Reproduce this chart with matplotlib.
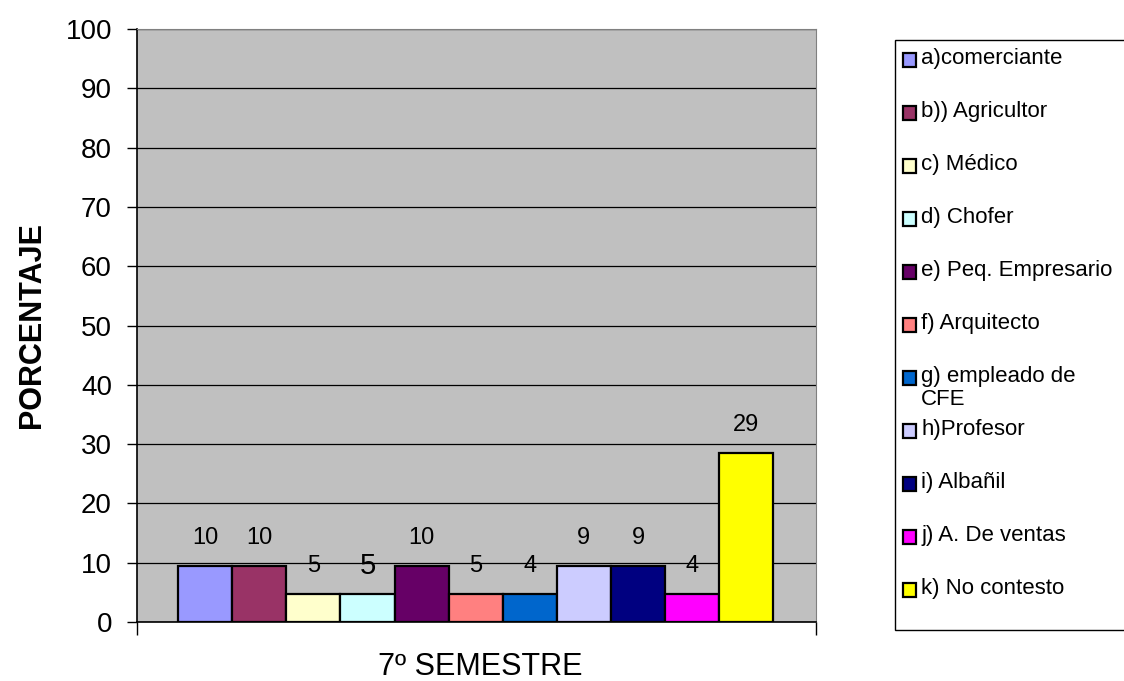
import matplotlib
matplotlib.use("Agg")
import matplotlib.pyplot as plt
from matplotlib.patches import Rectangle

plt.rcParams["font.family"] = ["Liberation Sans", "DejaVu Sans"]

# Occupation of the father, 7th semester (percent of 21 students)
CATEGORIES = [
    "a)comerciante", "b)) Agricultor", "c) Médico", "d) Chofer",
    "e) Peq. Empresario", "f) Arquitecto", "g) empleado de\nCFE",
    "h)Profesor", "i) Albañil", "j) A. De ventas", "k) No contesto",
]
PERCENT = [9.52, 9.52, 4.76, 4.76, 9.52, 4.76, 4.76, 9.52, 9.52, 4.76, 28.57]
LABELS = ["10", "10", "5", "5", "10", "5", "4", "9", "9", "4", "29"]
LABEL_SIZES = [17, 17, 17, 21, 17, 17, 17, 17, 17, 17, 17]
COLORS = ["#9999FF", "#993366", "#FFFFCC", "#CCFFFF", "#660066", "#FF8080",
          "#0066CC", "#CCCCFF", "#000080", "#FF00FF", "#FFFF00"]

W, H = 1124, 681
fig = plt.figure(figsize=(W / 100, H / 100), dpi=100)
ax = fig.add_axes([137 / W, 1 - 622 / H, (816 - 137) / W, (622 - 29) / H])
ax.set_facecolor("#C0C0C0")

xs = list(range(len(PERCENT)))
bars = ax.bar(xs, PERCENT, width=1.0, color=COLORS, edgecolor="black",
              linewidth=1.6, zorder=3)
for b, lab, fs in zip(bars, LABELS, LABEL_SIZES):
    ax.annotate(lab, (b.get_x() + b.get_width() / 2, b.get_height()),
                xytext=(0, 20), textcoords="offset points",
                ha="center", va="center", fontsize=fs)

ax.set_ylim(0, 100)
ax.set_yticks(range(0, 101, 10))
ax.set_xlim(-1.26, 11.29)
ax.set_xticks([-1.26, 11.29])
ax.set_xticklabels([])
ax.tick_params(axis="y", labelsize=20, length=7, width=1, pad=11)
ax.tick_params(axis="x", length=9, width=1)
ax.yaxis.grid(True, color="black", linewidth=0.9, zorder=0)
ax.set_axisbelow(True)
for s in ("top", "right"):
    ax.spines[s].set_color("#808080")
for s in ("left", "bottom"):
    ax.spines[s].set_color("black")
    ax.spines[s].set_linewidth(1.2)

ax.set_ylabel("PORCENTAJE", fontsize=22, fontweight="bold")
ax.yaxis.set_label_coords(-0.132, 0.5, transform=ax.transAxes)
ax.set_xlabel("7º SEMESTRE", fontsize=22)
ax.xaxis.set_label_coords(0.505, -0.05, transform=ax.transAxes)
ax.xaxis.label.set_va("top")

# legend box, clipped at the right edge as in the original
fig.patches.append(Rectangle((895 / W, 1 - 630 / H), 0.3, (630 - 40) / H,
                             transform=fig.transFigure, facecolor="white",
                             edgecolor="black", linewidth=1.0))
for i, (name, col) in enumerate(zip(CATEGORIES, COLORS)):
    yc = 60 + i * 53
    fig.patches.append(Rectangle((903 / W, 1 - (yc + 7) / H), 13 / W, 14 / H,
                                 transform=fig.transFigure, facecolor=col,
                                 edgecolor="black", linewidth=1.6))
    fig.text(921 / W, 1 - (yc - 12) / H, name, fontsize=16, va="top",
             ha="left", linespacing=1.1)

fig.savefig("out.png", dpi=100)
